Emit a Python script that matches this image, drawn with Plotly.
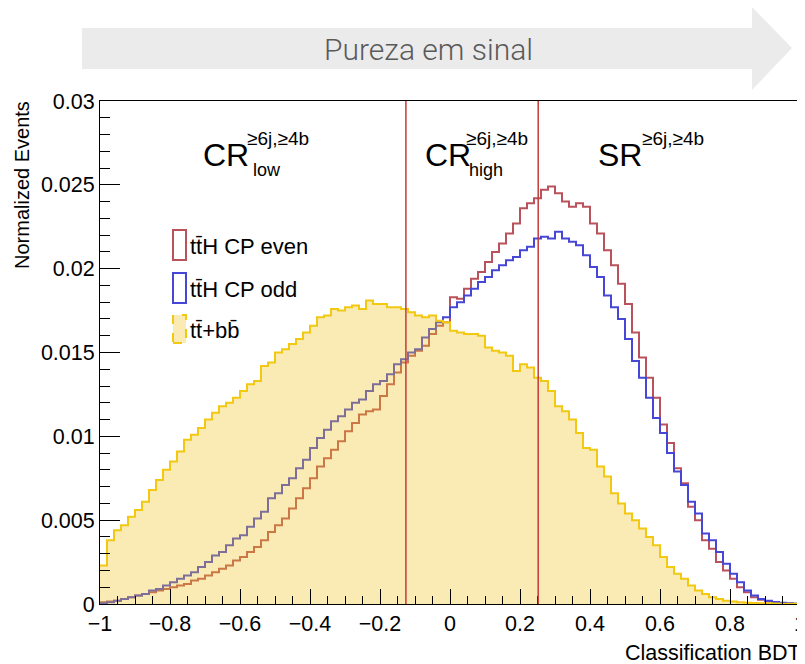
import numpy as np
import plotly.graph_objects as go

# ---------------- data ----------------
bin_lo, bin_hi, n_bins = -1.0, 1.0, 100

tth_even = [
    0.0001, 0.00015, 0.0002, 0.0003, 0.0004, 0.0005, 0.0006, 0.0007, 0.0008, 0.0009,
    0.0010, 0.0011, 0.0012, 0.0014, 0.0015, 0.0017, 0.0019, 0.0021, 0.0023, 0.0026,
    0.0028, 0.0031, 0.0034, 0.0038, 0.0043, 0.0047, 0.0051, 0.0057, 0.0063, 0.0069,
    0.0075, 0.0082, 0.0087, 0.0092, 0.0097, 0.0103, 0.0108, 0.0113, 0.0115, 0.0116,
    0.0124, 0.0131, 0.0138, 0.0144, 0.0148, 0.0151, 0.0154, 0.0161, 0.0166, 0.0168,
    0.0183, 0.0182, 0.0188, 0.0194, 0.0198, 0.0204, 0.0210, 0.0215, 0.0221, 0.0227,
    0.0236, 0.0239, 0.0242, 0.0247, 0.0249, 0.0245, 0.0240, 0.0237, 0.0239, 0.0237,
    0.0227, 0.0221, 0.0211, 0.0202, 0.0191, 0.0179, 0.0162, 0.0147, 0.0135, 0.0123,
    0.0107, 0.0096, 0.0081, 0.0072, 0.0058, 0.0050, 0.0038, 0.0033, 0.0025, 0.0020,
    0.0015, 0.0010, 0.0007, 0.0004, 0.00025, 0.00015, 0.0001, 0.00006, 0.00003, 0.00002,
]

tth_odd = [
    0.00005, 0.0001, 0.0002, 0.0003, 0.0004, 0.0005, 0.0006, 0.0008, 0.0009, 0.0011,
    0.0013, 0.0015, 0.0017, 0.0019, 0.0022, 0.0025, 0.0029, 0.0031, 0.0035, 0.0039,
    0.0041, 0.0046, 0.0051, 0.0055, 0.0063, 0.0066, 0.0071, 0.0075, 0.0081, 0.0086,
    0.0093, 0.0099, 0.0104, 0.0109, 0.0112, 0.0116, 0.0120, 0.0122, 0.0127, 0.0131,
    0.0133, 0.0137, 0.0143, 0.0146, 0.0150, 0.0152, 0.0159, 0.0164, 0.0168, 0.0171,
    0.0177, 0.0180, 0.0184, 0.0188, 0.0192, 0.0195, 0.0199, 0.0202, 0.0205, 0.0207,
    0.0211, 0.0213, 0.0218, 0.0219, 0.0218, 0.0222, 0.0218, 0.0216, 0.0214, 0.0208,
    0.0201, 0.0195, 0.0184, 0.0177, 0.0170, 0.0158, 0.0145, 0.0135, 0.0123, 0.0111,
    0.0102, 0.0090, 0.0079, 0.0071, 0.0061, 0.0054, 0.0042, 0.0038, 0.0031, 0.0024,
    0.0018, 0.0013, 0.0008, 0.0005, 0.0003, 0.0002, 0.00012, 0.00007, 0.00004, 0.00002,
]

ttbb = [
    0.0023, 0.0038, 0.0044, 0.0047, 0.0052, 0.0056, 0.0061, 0.0068, 0.0074, 0.0080,
    0.0085, 0.0091, 0.0098, 0.0101, 0.0105, 0.0110, 0.0114, 0.0118, 0.0120, 0.0123,
    0.0127, 0.0131, 0.0133, 0.0142, 0.0144, 0.0150, 0.0152, 0.0155, 0.0158, 0.0162,
    0.0166, 0.0171, 0.0172, 0.0176, 0.0175, 0.0177, 0.0178, 0.0176, 0.0181, 0.0179,
    0.0179, 0.0177, 0.0177, 0.0176, 0.0174, 0.0172, 0.0171, 0.0172, 0.0169, 0.0168,
    0.0163, 0.0162, 0.0161, 0.0161, 0.0160, 0.0153, 0.0151, 0.0150, 0.0148, 0.0139,
    0.0143, 0.0141, 0.0135, 0.0133, 0.0127, 0.0118, 0.0115, 0.0110, 0.0102, 0.0093,
    0.0092, 0.0082, 0.0076, 0.0066, 0.0060, 0.0054, 0.0050, 0.0045, 0.0040, 0.0035,
    0.0028, 0.0022, 0.0018, 0.0015, 0.0011, 0.0008, 0.0006, 0.0004, 0.0003, 0.0002,
    0.00015, 0.0001, 0.00008, 0.00006, 0.00005, 0.00004, 0.00003, 0.00002, 0.00002, 0.00001,
]

region_cuts = [-0.126, 0.252]

x_tick_vals = [-1, -0.8, -0.6, -0.4, -0.2, 0, 0.2, 0.4, 0.6, 0.8, 1]
x_tick_text = ["\u22121", "\u22120.8", "\u22120.6", "\u22120.4", "\u22120.2", "0",
               "0.2", "0.4", "0.6", "0.8", "1"]
y_tick_vals = [0, 0.005, 0.01, 0.015, 0.02, 0.025, 0.03]
y_tick_text = ["0", "0.005", "0.01", "0.015", "0.02", "0.025", "0.03"]

legend_labels = ["tt\u0304H CP even", "tt\u0304H CP odd", "tt\u0304+bb\u0304"]

# ---------------- geometry helpers ----------------
# the page body has an 8px margin, so the figure is drawn 8px smaller and all
# reference pixel positions are shifted by that offset
OFF = 8
W, H = 805 - OFF, 664 - OFF
ML, MR, MT, MB = 100 - OFF, 5, 101 - OFF, 60
PW, PH = W - ML - MR, H - MT - MB


def pxx(p):
    return (p - OFF - ML) / PW


def pxy(p):
    return (H - MB - (p - OFF)) / PH


edges = np.linspace(bin_lo, bin_hi, n_bins + 1)


def steps(vals):
    return list(edges), list(vals) + [vals[-1]]


RED = "#b9525a"
BLUE = "#4747d6"
GOLD = "#f2c811"
FILL = "rgba(240,195,30,0.33)"
FONT = "Liberation Sans, Arial, Helvetica, sans-serif"

fig = go.Figure()
for vals, col in [(tth_even, RED), (tth_odd, BLUE)]:
    xs, ys = steps(vals)
    fig.add_trace(go.Scatter(x=xs, y=ys, mode="lines", line=dict(color=col, width=2, shape="hv"),
                             hoverinfo="skip"))
xs, ys = steps(ttbb)
fig.add_trace(go.Scatter(x=xs, y=ys, mode="lines", fill="tozeroy", fillcolor=FILL,
                         line=dict(color=GOLD, width=2, shape="hv"), hoverinfo="skip"))

shapes = []
for c in region_cuts:
    shapes.append(dict(type="line", xref="x", yref="paper", x0=c, x1=c, y0=0, y1=1,
                       line=dict(color="#c43a3a", width=1.5), layer="above"))

# arrow banner
pts = [(82, 28), (752, 28), (752, 7), (792, 48), (752, 90), (752, 69), (82, 69)]
path = "M " + " L ".join(f"{pxx(a):.5f},{pxy(b):.5f}" for a, b in pts) + " Z"
shapes.append(dict(type="path", xref="paper", yref="paper", path=path,
                   fillcolor="#ebebeb", line=dict(width=0), layer="below"))

# legend boxes
box_y = [(230, 260), (273, 303), (315, 343)]
box_styles = [dict(line=dict(color=RED, width=2), fillcolor="rgba(0,0,0,0)"),
              dict(line=dict(color=BLUE, width=2), fillcolor="rgba(0,0,0,0)"),
              dict(line=dict(color=GOLD, width=2, dash="dash"), fillcolor=FILL)]
for (y0, y1), st in zip(box_y, box_styles):
    shapes.append(dict(type="rect", xref="paper", yref="paper", x0=pxx(173), x1=pxx(186),
                       y0=pxy(y1), y1=pxy(y0), layer="above", **st))

ann = []
ann.append(dict(text="Pureza em sinal", x=pxx(428), y=pxy(50), xref="paper", yref="paper",
                showarrow=False, xanchor="center", yanchor="middle",
                font=dict(family="Roboto", size=30, color="#5a5a5a", weight=300)))
ann.append(dict(text="Normalized Events", x=pxx(22), y=pxy(99), xref="paper", yref="paper",
                showarrow=False, textangle=-90, xanchor="center", yanchor="top",
                font=dict(family=FONT, size=20, color="black")))
ann.append(dict(text="Classification BDT", x=pxx(803), y=pxy(653), xref="paper", yref="paper",
                showarrow=False, xanchor="right", yanchor="middle",
                font=dict(family=FONT, size=21.5, color="black")))

for lab, (y0, y1) in zip(legend_labels, box_y):
    ann.append(dict(text=lab, x=pxx(188), y=pxy((y0 + y1) / 2 + 1), xref="paper", yref="paper",
                    showarrow=False, xanchor="left", yanchor="middle",
                    font=dict(family=FONT, size=22, color="black")))

regions = [("CR", "low", 201, 245, 251), ("CR", "high", 423, 464, 467), ("SR", "", 596, 640, 0)]
for main, sub, xm, xs_, xb in regions:
    ann.append(dict(text=main, x=pxx(xm), y=pxy(155), xref="paper", yref="paper", showarrow=False,
                    xanchor="left", yanchor="middle", font=dict(family=FONT, size=32, color="black")))
    ann.append(dict(text="\u22656j,\u22654b", x=pxx(xs_), y=pxy(138), xref="paper", yref="paper",
                    showarrow=False, xanchor="left", yanchor="middle",
                    font=dict(family=FONT, size=19, color="black")))
    if sub:
        ann.append(dict(text=sub, x=pxx(xb), y=pxy(170), xref="paper", yref="paper",
                        showarrow=False, xanchor="left", yanchor="middle",
                        font=dict(family=FONT, size=18, color="black")))

axis_common = dict(showline=True, linecolor="black", linewidth=1, mirror=True, ticks="inside",
                   tickcolor="black", tickwidth=1, showgrid=False, zeroline=False,
                   tickfont=dict(family=FONT, size=21.5, color="black"), tickmode="array",
                   ticklabeloverflow="allow", automargin=False)

fig.update_layout(
    width=W, height=H, margin=dict(l=ML, r=MR, t=MT, b=MB, autoexpand=False),
    paper_bgcolor="white", plot_bgcolor="white", showlegend=False,
    xaxis=dict(range=[bin_lo, bin_hi], tickvals=x_tick_vals, ticktext=x_tick_text, ticklen=15,
               minor=dict(ticks="inside", ticklen=8, tickmode="linear", tick0=-1, dtick=0.05,
                          tickcolor="black", showgrid=False),
               **axis_common),
    yaxis=dict(range=[0, 0.03], tickvals=y_tick_vals, ticktext=y_tick_text, ticklen=20,
               minor=dict(ticks="inside", ticklen=10, tickmode="linear", tick0=0, dtick=0.001,
                          tickcolor="black", showgrid=False),
               **axis_common),
    shapes=shapes, annotations=ann,
)

fig.write_html("out.html")
